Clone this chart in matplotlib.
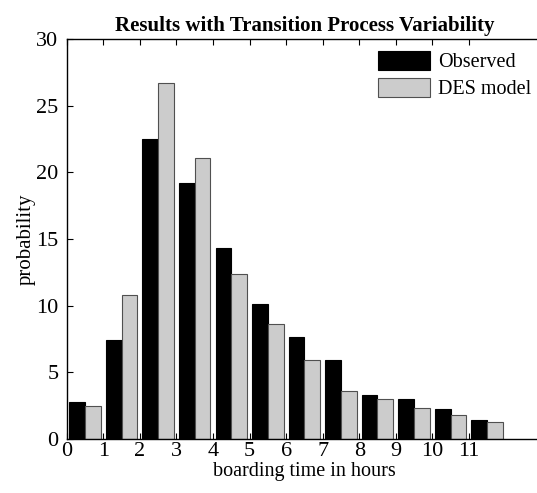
import matplotlib
matplotlib.use("Agg")
import matplotlib.pyplot as plt
import numpy as np

categories = [0.5, 1.5, 2.5, 3.5, 4.5, 5.5, 6.5, 7.5, 8.5, 9.5, 10.5, 11.5]
observed = [2.8, 7.4, 22.5, 19.2, 14.35, 10.1, 7.65, 5.9, 3.3, 3.0, 2.25, 1.45]
des_model = [2.5, 10.8, 26.7, 21.1, 12.4, 8.65, 5.9, 3.6, 3.0, 2.35, 1.8, 1.3]
xtick_labels = ["0", "1", "2", "3", "4", "5", "6", "7", "8", "9", "10", "11"]
ytick_values = [0, 5, 10, 15, 20, 25, 30]

plt.rcParams['font.family'] = ['Liberation Serif', 'DejaVu Serif']

fig = plt.figure(figsize=(5.37, 4.93), dpi=100)
W, H = 537, 493
left_px, right_px, top_px, bottom_px = 66.7, 542.0, 39.0, 439.0
ax = fig.add_axes([left_px / W, 1 - bottom_px / H, (right_px - left_px) / W, (bottom_px - top_px) / H])

x = np.array(categories)
bw = 0.43
ax.bar(x - bw / 2, observed, width=bw, color='black', edgecolor='black', linewidth=0.8, label='Observed')
ax.bar(x + bw / 2, des_model, width=bw, color='#cccccc', edgecolor='#505050', linewidth=0.8, label='DES model')

ax.set_xlim(0, 13)
ax.set_ylim(0, 30)
ax.set_xticks(range(len(xtick_labels)))
ax.set_xticklabels(xtick_labels)
ax.set_yticks(ytick_values)
ax.tick_params(direction='in', top=True, right=False, length=4, width=0.8, labelsize=16)
ax.tick_params(axis='x', pad=2)
ax.tick_params(axis='y', pad=6)
for s in ax.spines.values():
    s.set_linewidth(1.0)

ax.set_xlabel('boarding time in hours', fontsize=14.5, labelpad=1)
ax.set_ylabel('probability', fontsize=15, labelpad=0)
ax.set_title('Results with Transition Process Variability', fontsize=15, fontweight='bold', pad=6)

leg = ax.legend(loc='upper left', bbox_to_anchor=(0.655, 0.97), frameon=False, fontsize=14.5,
                handlelength=2.6, handleheight=1.05, handletextpad=0.4, labelspacing=0.3,
                borderaxespad=0, borderpad=0)

fig.savefig('out.png', dpi=100)
